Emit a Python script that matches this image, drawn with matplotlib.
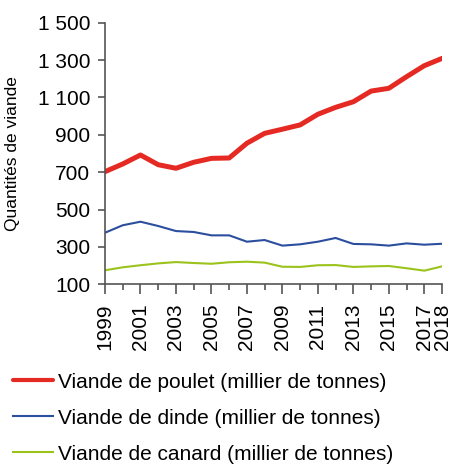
import matplotlib
matplotlib.use("Agg")
import matplotlib.pyplot as plt
from matplotlib.ticker import FixedLocator, FuncFormatter

plt.rcParams["font.family"] = ["Liberation Sans", "DejaVu Sans"]

years = list(range(1999, 2019))
poulet = [703, 744, 792, 740, 721, 753, 774, 776, 855, 908,
          930, 953, 1010, 1047, 1077, 1134, 1149, 1211, 1270, 1309]
dinde = [376, 416, 435, 412, 385, 380, 362, 362, 328, 337,
         307, 314, 328, 348, 316, 314, 307, 319, 312, 317]
canard = [175, 191, 202, 212, 219, 214, 210, 218, 221, 216,
          194, 193, 202, 203, 193, 196, 198, 186, 173, 196]

labels = ["Viande de poulet (millier de tonnes)",
          "Viande de dinde (millier de tonnes)",
          "Viande de canard (millier de tonnes)"]
tick_years = [1999, 2001, 2003, 2005, 2007, 2009, 2011, 2013, 2015, 2017, 2018]
yticks = [100, 300, 500, 700, 900, 1100, 1300, 1500]

fig = plt.figure(figsize=(4.52, 4.68), dpi=100)
ax = fig.add_axes([0.2323, 0.3925, 0.7457, 0.559])

l1, = ax.plot(years, poulet, color="#e52a24", lw=3.6, solid_capstyle="round")
l2, = ax.plot(years, dinde, color="#2b4f9e", lw=1.5)
l3, = ax.plot(years, canard, color="#9bc31c", lw=1.5)

ax.set_xlim(1999, 2018)
ax.set_ylim(100, 1500)
ax.yaxis.set_major_locator(FixedLocator(yticks))
ax.yaxis.set_major_formatter(FuncFormatter(lambda v, p: f"{int(v):,}".replace(",", " ")))
ax.xaxis.set_major_locator(FixedLocator(tick_years))
ax.xaxis.set_minor_locator(FixedLocator([y for y in years if y not in tick_years]))
ax.set_xticklabels([str(y) for y in tick_years], rotation=90)

for s in ["top", "right"]:
    ax.spines[s].set_visible(False)
for s in ["left", "bottom"]:
    ax.spines[s].set_color("#555555")
    ax.spines[s].set_linewidth(1.2)

ax.tick_params(axis="y", length=5.2, width=1.2, color="#555555", labelsize=15, pad=5.5)
ax.tick_params(axis="x", which="major", length=7, width=1.2, color="#555555",
               labelsize=15, pad=7, direction="out")
ax.tick_params(axis="x", which="minor", length=4.3, width=1.2, color="#555555")

ax.set_ylabel("Quantités de viande", fontsize=12.5)
ax.yaxis.set_label_coords(-0.252, 0.5)

leg = fig.legend([l1, l2, l3], labels, loc="upper left", bbox_to_anchor=(0.029, 0.204),
                 frameon=False, fontsize=15, handlelength=1.92, handletextpad=0.25,
                 labelspacing=0.82, borderaxespad=0, borderpad=0)
leg.get_lines()[0].set_linewidth(3)

fig.savefig("out.png", dpi=100)
